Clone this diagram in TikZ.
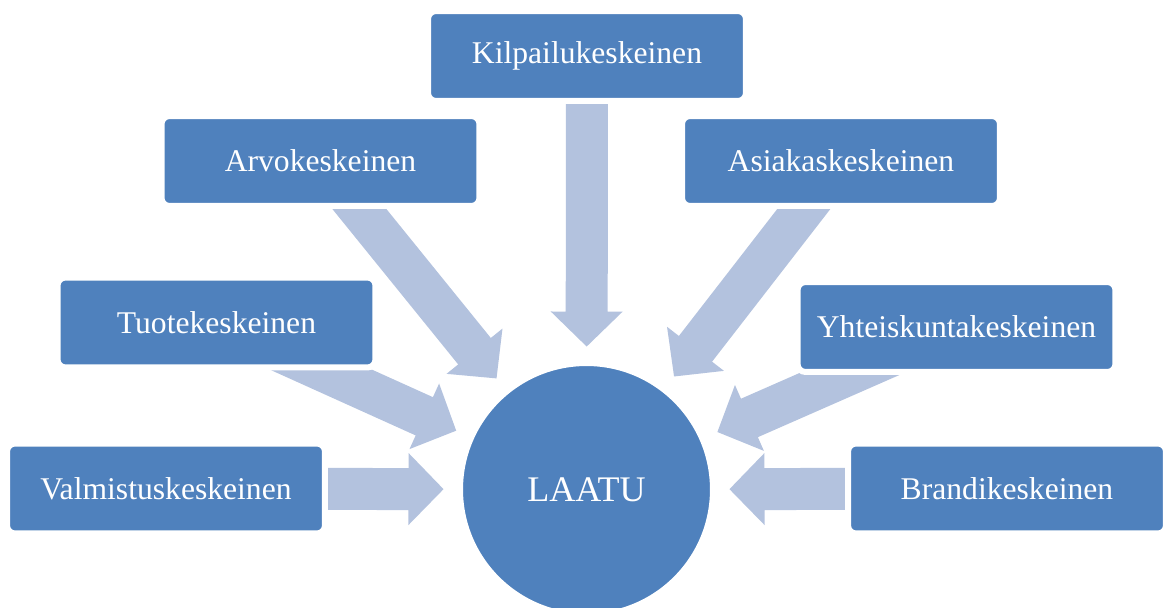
\documentclass[tikz,border=0pt]{standalone}
\usepackage{fontspec}
\setmainfont{Liberation Serif}
\usetikzlibrary{calc,backgrounds}

\definecolor{boxblue}{RGB}{79,129,189}
\definecolor{flowblue}{RGB}{179,194,222}

\tikzset{
    ctabox/.style={rectangle, rounded corners=0.16cm, fill=boxblue, draw=white,
        line width=0.12cm, minimum width=6.36cm, minimum height=1.8cm,
        inner sep=0pt, outer sep=0pt, text=white,
        font=\fontsize{18}{22}\selectfont},
    core/.style={circle, fill=boxblue, draw=white, line width=0.12cm,
        minimum size=5.06cm, inner sep=0pt, outer sep=0pt, text=white,
        font=\fontsize{20.5}{24}\selectfont},
    flow/.style={fill=flowblue, draw=none}
}

\begin{document}
\begin{tikzpicture}[x=0.02cm, y=-0.02cm]
    \path[use as bounding box, clip] (0,0) rectangle (1164,608);

    % centre
    \node[core] (laatu) at (586.5,489.5) {LAATU};

    % boxes, top to bottom
    \node[ctabox] (kilpailu) at (587,56) {Kilpailukeskeinen};
    \node[ctabox] (arvo) at (320.5,161) {Arvokeskeinen};
    \node[ctabox] (asiakas) at (841,161) {Asiakaskeskeinen};
    \node[ctabox] (tuote) at (216.5,322.5) {Tuotekeskeinen};
    \node[ctabox] (yhteis) at (956.5,327) {Yhteiskuntakeskeinen};
    \node[ctabox] (valmistus) at (166,488.5) {Valmistuskeskeinen};
    \node[ctabox] (brandi) at (1007,488.5) {Brandikeskeinen};

    % block arrows, tails hidden behind the boxes
    \begin{pgfonlayer}{background}
        \foreach \src in {kilpailu,arvo,asiakas,tuote,yhteis,valmistus,brandi}{
            \path ($(laatu.center)!2.86cm!(\src.center)$) coordinate (tip)
                  ($(laatu.center)!3.56cm!(\src.center)$) coordinate (neck);
            \fill[flow] ($(\src.center)!0.42cm!-90:(neck)$)
                -- ($(neck)!0.42cm!90:(\src.center)$)
                -- ($(neck)!0.72cm!90:(\src.center)$)
                -- (tip)
                -- ($(neck)!0.72cm!-90:(\src.center)$)
                -- ($(neck)!0.42cm!-90:(\src.center)$)
                -- ($(\src.center)!0.42cm!90:(neck)$) -- cycle;
        }
    \end{pgfonlayer}
\end{tikzpicture}
\end{document}
